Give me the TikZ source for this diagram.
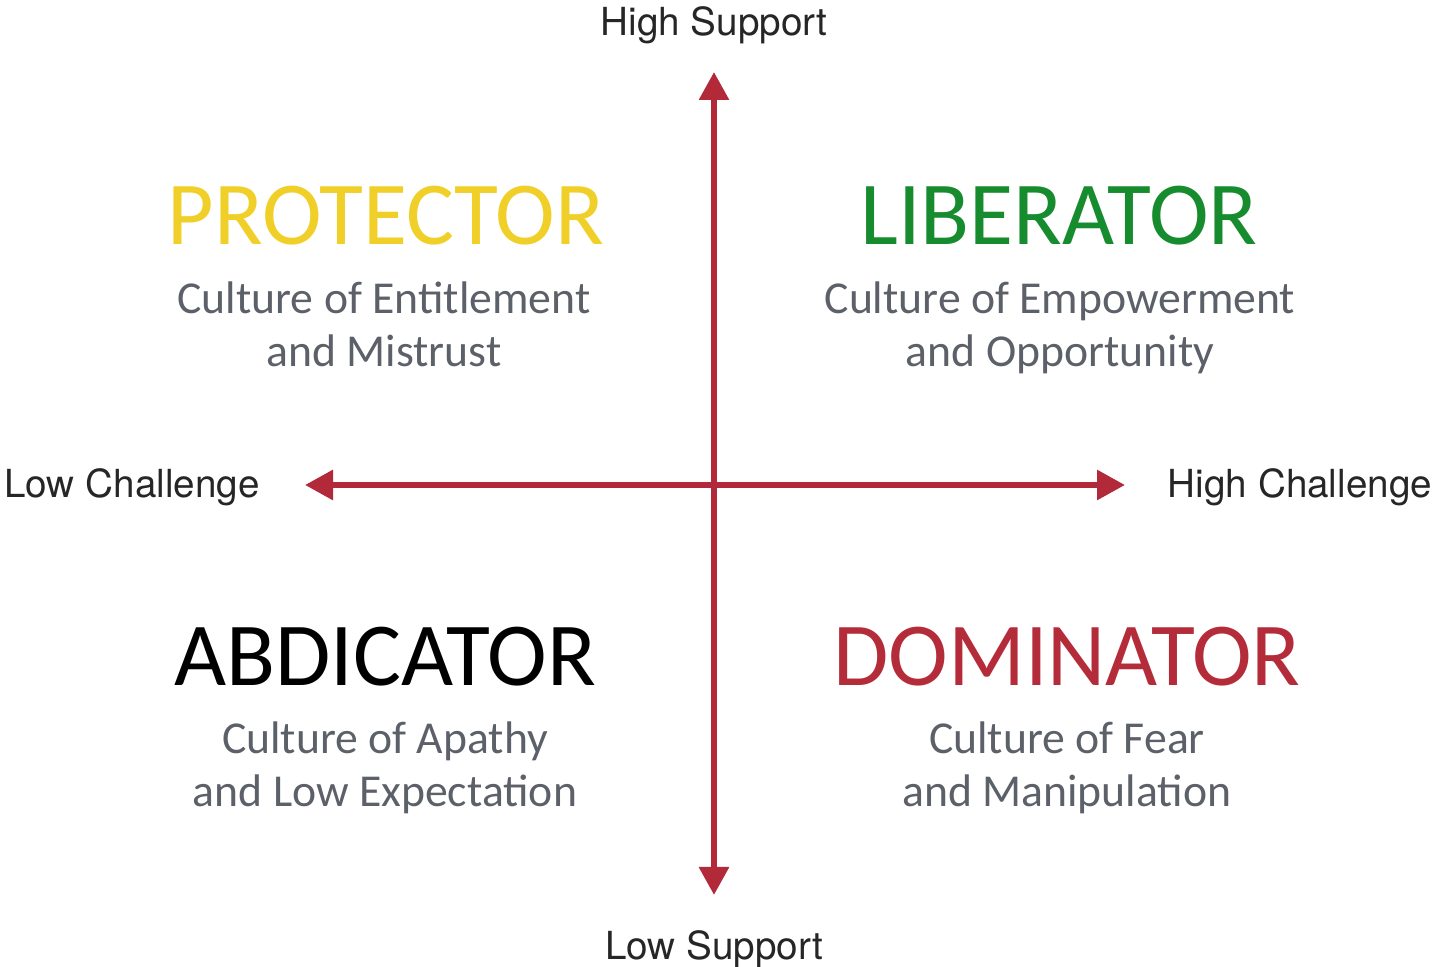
\documentclass[tikz,border=0pt]{standalone}
\usepackage{fontspec}
\setmainfont{Carlito}
\newfontfamily\axisfont{TeX Gyre Heros}
\usetikzlibrary{arrows.meta, positioning}

\definecolor{axisred}{RGB}{178,42,58}
\definecolor{protyellow}{RGB}{240,208,40}
\definecolor{libgreen}{RGB}{22,140,46}
\definecolor{domred}{RGB}{180,44,58}
\definecolor{subgray}{RGB}{92,96,104}

\begin{document}
\begin{tikzpicture}[x=0.1mm,y=-0.1mm,
        axis/.style={axisred, line width=1.7pt, -{Triangle[length=2.8mm,width=2.9mm]}},
        axislabel/.style={font=\axisfont\fontsize{11}{13}\selectfont, text=black!85, inner sep=0pt},
        title/.style={font=\fontsize{25.6}{28}\selectfont, anchor=base, inner sep=0pt},
        subline/.style={font=\fontsize{13}{15}\selectfont, text=subgray, anchor=base, inner sep=0pt}]
    \useasboundingbox (0,0) rectangle (1435,967);
    % axes
    \coordinate (origin) at (714,485);
    \coordinate (top) at (714,72);
    \coordinate (bottom) at (714,895);
    \coordinate (left) at (305,485);
    \coordinate (right) at (1125,485);
    \draw[axis] (origin) -- (top);
    \draw[axis] (origin) -- (bottom);
    \draw[axis] (origin) -- (left);
    \draw[axis] (origin) -- (right);
    \node[axislabel] (hisupport) at (714,25) {High Support};
    \node[axislabel] (losupport) at (714,949) {Low Support};
    \node[axislabel] (lochallenge) at (132,487) {Low Challenge};
    \node[axislabel] (hichallenge) at (1300,487) {High Challenge};
    % quadrants
    \node[title, text=protyellow] (protector) at (386,245) {PROTECTOR};
    \node[subline] (prot1) at (384,314) {Culture of Entitlement};
    \node[subline] (prot2) at (384,367) {and Mistrust};
    \node[title, text=libgreen] (liberator) at (1059,245) {LIBERATOR};
    \node[subline] (lib1) at (1060,314) {Culture of Empowerment};
    \node[subline] (lib2) at (1060,367) {and Opportunity};
    \node[title, text=black] (abdicator) at (385,686) {ABDICATOR};
    \node[subline] (abd1) at (385,754) {Culture of Apathy};
    \node[subline] (abd2) at (385,807) {and Low Expectation};
    \node[title, text=domred] (dominator) at (1067,686) {DOMINATOR};
    \node[subline] (dom1) at (1067,754) {Culture of Fear};
    \node[subline] (dom2) at (1067,807) {and Manipulation};
\end{tikzpicture}
\end{document}
